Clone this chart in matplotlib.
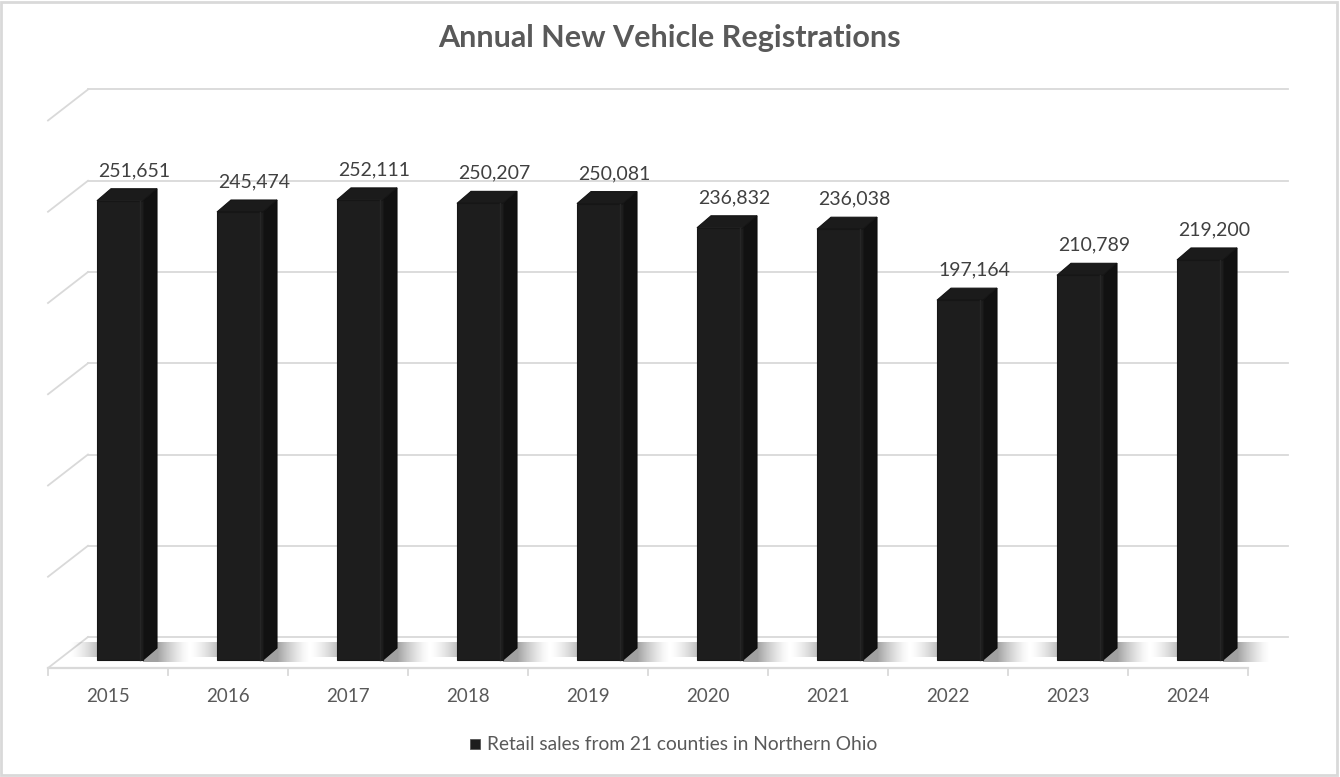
import matplotlib.pyplot as plt
from matplotlib.patches import Polygon
import numpy as np

plt.rcParams['font.family'] = ['Lato', 'DejaVu Sans']

# data
years = ['2015', '2016', '2017', '2018', '2019', '2020', '2021', '2022', '2023', '2024']
registrations = [251651, 245474, 252111, 250207, 250081, 236832, 236038, 197164, 210789, 219200]
grid_values = [0, 50000, 100000, 150000, 200000, 250000, 300000]
title = 'Annual New Vehicle Registrations'
series_name = 'Retail sales from 21 counties in Northern Ohio'

W, H = 1340, 777
fig = plt.figure(figsize=(W / 100, H / 100), dpi=100)
ax = fig.add_axes([0, 0, 1, 1])

# pixel anchors of the bar front plane: category 0 centred at x=120, value 0 at y=660
px_cat = 120.0          # px per category
px_val = 1.825e-3       # px per unit of value
x0_px, y0_px = 120.0, 660.0
ax.set_xlim(-x0_px / px_cat, (W - x0_px) / px_cat)
ax.set_ylim(-(H - y0_px) / px_val, y0_px / px_val)
ax.axis('off')


def off(dx_px, dy_px):
    # pixel offset (right, up) -> data offset
    return dx_px / px_cat, dy_px / px_val


grid_c = '#d9d9d9'
text_c = '#595959'

# planes relative to the bar front plane
fx, fy = off(-12, -8)     # front edge of floor
bx, by = off(28, 23)      # back wall
dx, dy = off(14, 12)      # bar depth
n = len(years)

# back wall gridlines + left side diagonals
for v in grid_values:
    ax.plot([-0.5 + bx, n - 0.5 + bx], [v + by, v + by], color=grid_c, lw=1.3, zorder=1)
    ax.plot([-0.5 + fx, -0.5 + bx], [v + fy, v + by], color=grid_c, lw=1.3, zorder=1)

# floor front edge and ticks
ax.plot([-0.5 + fx, n - 0.5 + fx], [fy, fy], color=grid_c, lw=1.6, zorder=1)
tick_len = off(0, -7)[1]
for i in range(n + 1):
    xt = i - 0.5 + fx
    ax.plot([xt, xt], [fy, fy + tick_len], color=grid_c, lw=1.3, zorder=1)

# bars
hw = 23 / px_cat
sh_y0, sh_y1 = off(0, -2)[1], off(0, 18)[1]
step = 1 / px_cat
for i, v in enumerate(registrations):
    xl, xr = i - hw, i + hw
    # soft shadow on the floor either side of each bar
    for k in range(32):
        a = 0.5 * (1 - k / 32) ** 1.4
        p0 = xr + dx + k * step
        ax.fill_between([p0, p0 + step], sh_y0, sh_y1 - k * step * 0.0,
                        color='#444444', alpha=a, lw=0, zorder=2)
    ax.fill_between([xr, xr + dx], sh_y0, sh_y1, color='#444444', alpha=0.5, lw=0, zorder=2)
    for k in range(26):
        a = 0.32 * (1 - k / 26) ** 1.4
        p1 = xl - k * step
        ax.fill_between([p1 - step, p1], sh_y0 + (sh_y1 - sh_y0) * 0.25, sh_y1,
                        color='#444444', alpha=a, lw=0, zorder=2)

    side = Polygon([[xr, 0], [xr + dx, dy], [xr + dx, v + dy], [xr, v]],
                   closed=True, facecolor='#111111', edgecolor='#0c0c0c', lw=0.8, zorder=3)
    top = Polygon([[xl, v], [xr, v], [xr + dx, v + dy], [xl + dx, v + dy]],
                  closed=True, facecolor='#1b1b1b', edgecolor='#141414', lw=0.8, zorder=3)
    ax.add_patch(side)
    ax.add_patch(top)
    ax.bar(i, v, width=2 * hw, color='#1d1d1d', edgecolor='#161616', lw=0.8, zorder=4)
    # faint bevel line near the right edge of the front face
    ax.plot([xr - 3 / px_cat, xr - 3 / px_cat], [0, v], color='#262626', lw=1, zorder=5)

    lx, ly = off(14.5, 30)
    ax.text(i + lx, v + ly, f'{v:,}', ha='center', va='center',
            fontsize=14, color='#404040', zorder=6)
    ax.text(i - 12 / px_cat, fy + off(0, -29)[1], years[i], ha='center', va='center',
            fontsize=13.5, color=text_c, zorder=6)

fig.text(669 / W, 1 - 38 / H, title, ha='center', va='center',
         fontsize=22, fontweight='bold', color=text_c)

# legend
fig.patches.append(plt.Rectangle((470 / W, 1 - 749 / H), 10 / W, 10 / H,
                                 transform=fig.transFigure, facecolor='#1d1d1d',
                                 edgecolor='#555555', lw=0.6))
fig.text(487 / W, 1 - 744 / H, series_name, ha='left', va='center',
         fontsize=13.8, color=text_c)

# chart border
fig.patches.append(plt.Rectangle((0.001, 0.002), 0.997, 0.996, transform=fig.transFigure,
                                 facecolor='none', edgecolor=grid_c, lw=2))

fig.savefig('out.png', dpi=100, facecolor='white')
